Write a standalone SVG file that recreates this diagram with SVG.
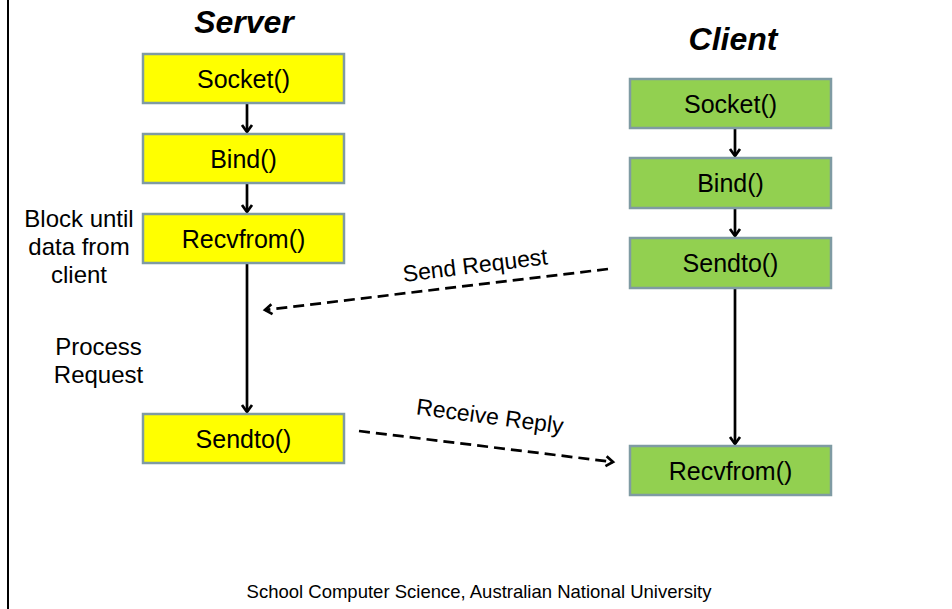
<svg xmlns="http://www.w3.org/2000/svg" width="952" height="609" viewBox="0 0 952 609">
<style>
text{font-family:"Liberation Sans",Arial,sans-serif;fill:#000}
.box{stroke:#7f9ba3;stroke-width:2.5}
.srv{fill:#ffff00}
.cli{fill:#92d050}
.bt{font-size:25px;text-anchor:middle}
.title{font-size:32px;font-weight:bold;font-style:italic;text-anchor:middle}
.note{font-size:24px;text-anchor:middle}
.lbl{font-size:23px;text-anchor:middle}
.conn{stroke:#000;stroke-width:2.7;fill:none}
.dash{stroke-dasharray:11,6}
</style>
<defs>
<marker id="ah" viewBox="0 0 14 14" refX="11" refY="7" markerWidth="14" markerHeight="14" markerUnits="userSpaceOnUse" orient="auto">
<polyline points="4,2 11,7 4,12" fill="none" stroke="#000" stroke-width="2.7"/>
</marker>
</defs>
<rect width="952" height="609" fill="#fff"/>
<line x1="8" y1="0" x2="8" y2="609" stroke="#000" stroke-width="2"/>
<text class="title" x="244" y="33">Server</text>
<text class="title" x="733" y="50">Client</text>
<g id="connectors">
<line class="conn" x1="247" y1="104" x2="247" y2="132" marker-end="url(#ah)"/>
<line class="conn" x1="247" y1="184" x2="247" y2="212" marker-end="url(#ah)"/>
<line class="conn" x1="247" y1="264" x2="247" y2="412" marker-end="url(#ah)"/>
<line class="conn" x1="735" y1="129" x2="735" y2="156" marker-end="url(#ah)"/>
<line class="conn" x1="735" y1="209" x2="735" y2="236" marker-end="url(#ah)"/>
<line class="conn" x1="735" y1="289" x2="735" y2="444" marker-end="url(#ah)"/>
<line class="conn dash" x1="608" y1="269" x2="265" y2="310" marker-end="url(#ah)"/>
<line class="conn dash" x1="359" y1="431" x2="613" y2="462" marker-end="url(#ah)"/>
<text class="lbl" transform="translate(476,273) rotate(-7)">Send Request</text>
<text class="lbl" transform="translate(489,424) rotate(7.5)">Receive Reply</text>
</g>
<g id="server-socket"><rect class="box srv" x="143" y="54" width="201" height="49"/><text class="bt" x="243.5" y="88">Socket()</text></g>
<g id="server-bind"><rect class="box srv" x="143" y="134" width="201" height="49"/><text class="bt" x="243.5" y="168">Bind()</text></g>
<g id="server-recvfrom"><rect class="box srv" x="143" y="214" width="201" height="49"/><text class="bt" x="243.5" y="248">Recvfrom()</text></g>
<g id="server-sendto"><rect class="box srv" x="143" y="414" width="201" height="49"/><text class="bt" x="243.5" y="448">Sendto()</text></g>
<g id="client-socket"><rect class="box cli" x="630" y="79" width="201" height="49"/><text class="bt" x="730.5" y="113">Socket()</text></g>
<g id="client-bind"><rect class="box cli" x="630" y="158" width="201" height="50"/><text class="bt" x="730.5" y="192">Bind()</text></g>
<g id="client-sendto"><rect class="box cli" x="630" y="238" width="201" height="50"/><text class="bt" x="730.5" y="272">Sendto()</text></g>
<g id="client-recvfrom"><rect class="box cli" x="630" y="446" width="201" height="49"/><text class="bt" x="730.5" y="480">Recvfrom()</text></g>
<g id="notes">
<text class="note" x="79" y="227">Block until</text>
<text class="note" x="79" y="255">data from</text>
<text class="note" x="79" y="283">client</text>
<text class="note" x="98.5" y="355">Process</text>
<text class="note" x="98.5" y="383">Request</text>
</g>
<text x="479" y="598" font-size="18.5" text-anchor="middle">School Computer Science, Australian National University</text>
</svg>
